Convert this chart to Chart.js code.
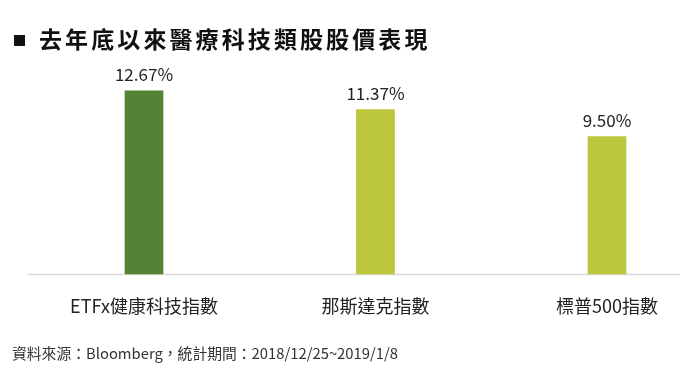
<!DOCTYPE html>
<html>
<head>
<meta charset="utf-8">
<script src="https://cdn.jsdelivr.net/npm/chart.js@4"></script>
<style>
  html, body { margin: 0; padding: 0; background: #fff; }
  #wrap { position: relative; width: 680px; height: 377px; overflow: hidden; }
  #title {
    position: absolute; left: 14px; top: 22px;
    font-family: "Noto Sans CJK TC", sans-serif; font-weight: bold;
    font-size: 23px; letter-spacing: 3.1px; color: #111; line-height: 32px;
  }
  #title .sq { display: inline-block; width: 11px; height: 11px; background: #111; margin-right: 14px; vertical-align: 2px; }
  #note {
    position: absolute; left: 12px; top: 342px;
    font-family: "Noto Sans CJK TC", sans-serif; font-size: 14.8px; color: #333; line-height: 22px;
  }
  canvas { position: absolute; left: 0; top: 0; }
</style>
</head>
<body>
<div id="wrap">
  <canvas id="chart_stockPerf" width="680" height="377"></canvas>
  <div id="title"><span class="sq"></span>去年底以來醫療科技類股股價表現</div>
  <div id="note">資料來源：Bloomberg，統計期間：2018/12/25~2019/1/8</div>
</div>
<script>
var categories = ['ETFx健康科技指數', '那斯達克指數', '標普500指數'];
var returns = [12.67, 11.37, 9.50];
var barColors = ['#548235', '#BDC73C', '#BDC73C'];

var valueLabels = {
    id: 'valueLabels',
    afterDatasetsDraw: (chart) => {
        const ctx = chart.ctx;
        const meta = chart.getDatasetMeta(0);
        ctx.save();
        ctx.font = '17px "Noto Sans CJK TC", sans-serif';
        ctx.fillStyle = '#222';
        ctx.textAlign = 'center';
        ctx.textBaseline = 'middle';
        meta.data.forEach((bar, i) => {
            ctx.fillText(returns[i].toFixed(2) + '%', bar.x, bar.y - 16);
        });
        ctx.restore();
    }
};

var baseLine = {
    id: 'baseLine',
    beforeDatasetsDraw: (chart) => {
        const ctx = chart.ctx;
        const y = Math.round(chart.scales.y.getPixelForValue(0)) + 0.5;
        ctx.save();
        ctx.strokeStyle = '#d9d9d9';
        ctx.lineWidth = 1.5;
        ctx.beginPath();
        ctx.moveTo(28, y);
        ctx.lineTo(chart.width, y);
        ctx.stroke();
        ctx.restore();
    }
};

var chart_stockPerf = new Chart(document.getElementById('chart_stockPerf'), {
    type: 'bar',
    data: {
        labels: categories,
        datasets: [{
            data: returns,
            backgroundColor: barColors,
            barThickness: 38,
            clip: false
        }]
    },
    options: {
        animation: false,
        responsive: false,
        events: [],
        layout: {
            padding: { left: 144, right: 73, top: 57, bottom: 0 }
        },
        plugins: {
            legend: { display: false },
            tooltip: { enabled: false }
        },
        scales: {
            x: {
                offset: false,
                grid: { display: false, drawTicks: false },
                border: { display: false },
                ticks: {
                    font: { family: '"Noto Sans CJK TC", sans-serif', size: 18 },
                    color: '#222',
                    padding: 21,
                    maxRotation: 0
                },
                afterFit: (scale) => { scale.height = 103; }
            },
            y: {
                display: false,
                min: 0,
                max: 15
            }
        }
    },
    plugins: [baseLine, valueLabels]
});
</script>
</body>
</html>
